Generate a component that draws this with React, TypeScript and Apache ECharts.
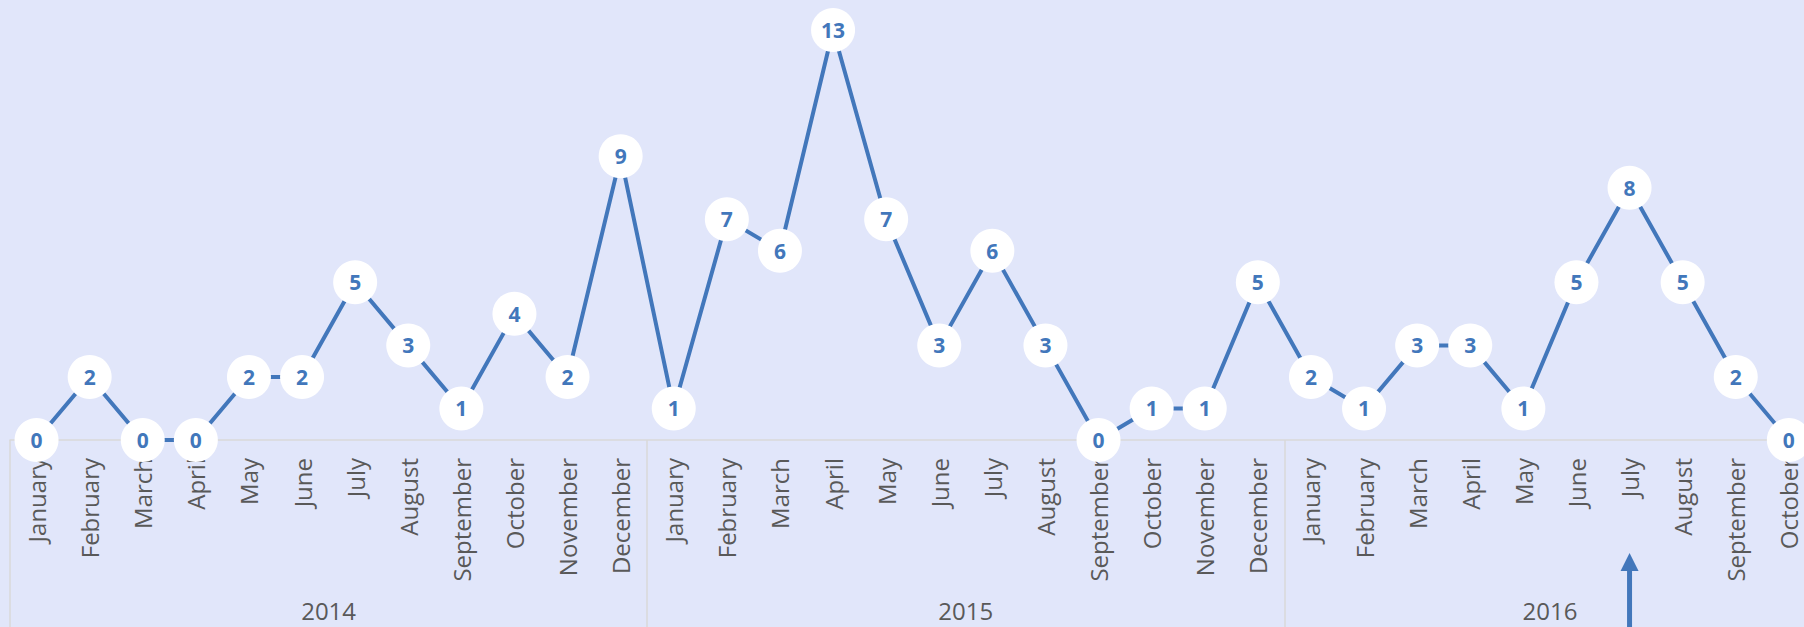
import React, { useEffect, useRef } from "react";
import * as echarts from "echarts";

const monthNames = [
  "January", "February", "March", "April", "May", "June",
  "July", "August", "September", "October", "November", "December",
];
const years = ["2014", "2015", "2016"];
const values2014 = [0, 2, 0, 0, 2, 2, 5, 3, 1, 4, 2, 9];
const values2015 = [1, 7, 6, 13, 7, 3, 6, 3, 0, 1, 1, 5];
const values2016 = [2, 1, 3, 3, 1, 5, 8, 5, 2, 0];
const highlight = { year: "2016", month: "July" };

const LINE = "#4277bb";
const AXIS_GRAY = "#d9d9d9";
const TEXT_GRAY = "#595959";
const FONT = "'Open Sans', 'Noto Sans', sans-serif";

export default function App() {
  const ref = useRef<HTMLDivElement>(null);
  useEffect(() => {
    if (!ref.current) return;
    const chart = echarts.init(ref.current, undefined, { renderer: "svg" });
    const yearValues = [values2014, values2015, values2016];
    const categories: string[] = [];
    const values: number[] = [];
    const boundaries: number[] = [];
    const centers: number[] = [];
    yearValues.forEach((arr, yi) => {
      boundaries.push(categories.length);
      centers.push(categories.length + arr.length / 2);
      arr.forEach((v, mi) => {
        categories.push(monthNames[mi] + " " + years[yi]);
        values.push(v);
      });
    });
    const n = categories.length;
    const bandW = 53.1;
    chart.setOption({
      animation: false,
      backgroundColor: "#e1e6fa",
      grid: {
        left: 10,
        top: 30,
        height: 410,
        width: bandW * n,
        containLabel: false,
        outerBoundsMode: "none",
      },
      xAxis: [
        {
          type: "category",
          data: categories,
          boundaryGap: true,
          axisLine: { show: true, lineStyle: { color: AXIS_GRAY, width: 1.5 } },
          axisTick: { show: false },
          axisLabel: {
            interval: 0,
            rotate: 90,
            margin: 18,
            color: TEXT_GRAY,
            fontSize: 24,
            fontFamily: FONT,
            formatter: (v: string) => v.split(" ")[0],
          },
          splitLine: { show: false },
        },
        {
          type: "value",
          min: 0,
          max: n,
          position: "bottom",
          axisLine: { show: false },
          axisTick: {
            show: true,
            customValues: boundaries,
            length: 190,
            lineStyle: { color: AXIS_GRAY, width: 1.5 },
          },
          axisLabel: {
            customValues: centers,
            margin: 158,
            color: TEXT_GRAY,
            fontSize: 24,
            fontFamily: FONT,
            formatter: (v: number) => {
              const i = centers.findIndex((c) => Math.abs(c - v) < 1e-6);
              return i >= 0 ? years[i] : "";
            },
          },
          splitLine: { show: false },
        },
      ],
      yAxis: {
        type: "value",
        min: 0,
        max: 13,
        show: false,
        splitLine: { show: false },
      },
      series: [
        {
          type: "line",
          data: values,
          clip: false,
          symbol: "circle",
          symbolSize: 44,
          showAllSymbol: true,
          lineStyle: { color: LINE, width: 4 },
          itemStyle: { color: "#ffffff", borderWidth: 0 },
          label: {
            show: true,
            position: "inside",
            color: LINE,
            fontWeight: "bold",
            fontSize: 21,
            fontFamily: FONT,
          },
          emphasis: { disabled: true },
        },
      ],
    });
    const idx = categories.indexOf(highlight.month + " " + highlight.year);
    const x = chart.convertToPixel({ xAxisIndex: 0 }, idx) as number;
    chart.setOption({
      graphic: [
        {
          type: "polygon",
          shape: { points: [[x - 9, 571], [x, 553], [x + 9, 571]] },
          style: { fill: LINE },
        },
        {
          type: "rect",
          shape: { x: x - 2.5, y: 569, width: 5, height: 60 },
          style: { fill: LINE },
        },
      ],
    });
    return () => chart.dispose();
  }, []);
  return (
    <div
      ref={ref}
      style={{ position: "fixed", left: 0, top: 0, width: 1804, height: 627 }}
    />
  );
}
